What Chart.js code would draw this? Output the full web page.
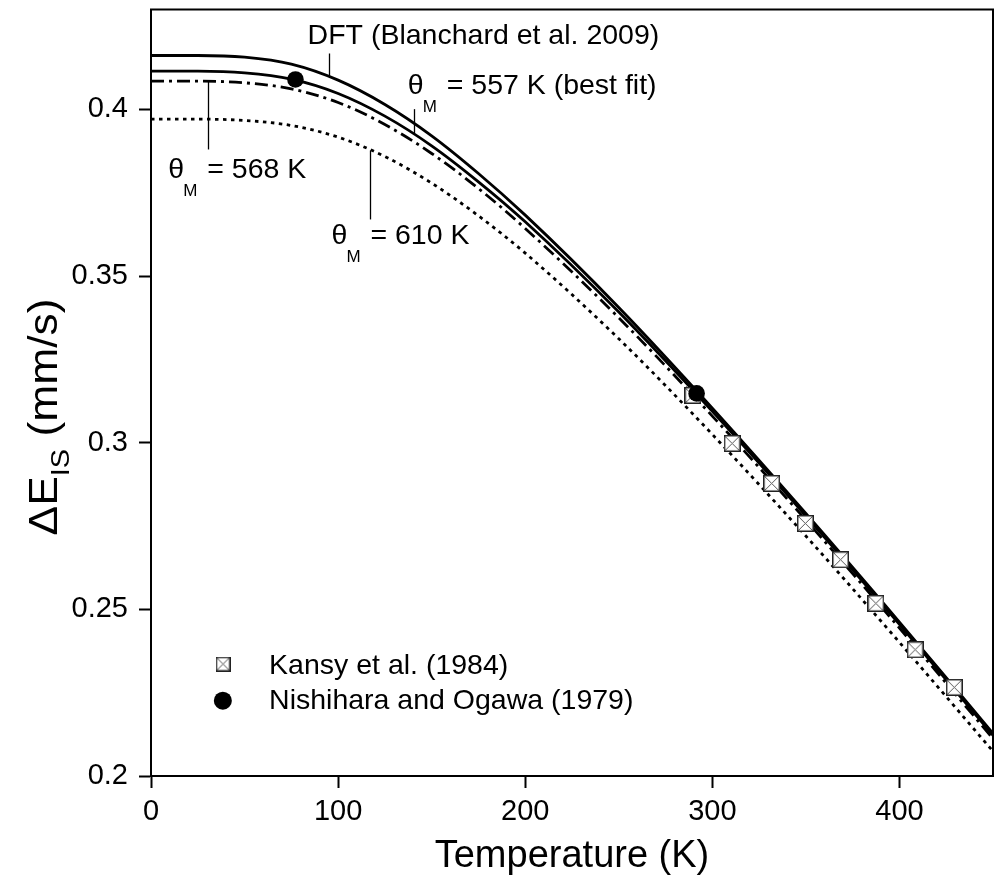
<!DOCTYPE html>
<html>
<head>
<meta charset="utf-8">
<script src="https://cdn.jsdelivr.net/npm/chart.js@4.4.0/dist/chart.umd.min.js"></script>
<style>
html,body{margin:0;padding:0;background:#fff;}
#wrap{width:996px;height:895px;position:relative;}
</style>
</head>
<body>
<div id="wrap"><canvas id="c" width="996" height="895"></canvas></div>
<script>
// ---- data ----
const temps        = [0, 25, 50, 75, 100, 125, 150, 175, 200, 250, 300, 350, 400, 450];
const dftValues    = [0.4162, 0.4162, 0.4157, 0.4136, 0.4088, 0.4015, 0.3921, 0.3808, 0.3683, 0.3406, 0.3104, 0.2788, 0.2462, 0.2128];
const fit557Values = [0.4115, 0.4115, 0.4110, 0.4091, 0.4048, 0.3980, 0.3891, 0.3783, 0.3663, 0.3392, 0.3094, 0.2780, 0.2455, 0.2122];
const fit568Values = [0.4085, 0.4085, 0.4080, 0.4062, 0.4021, 0.3955, 0.3868, 0.3763, 0.3643, 0.3375, 0.3080, 0.2768, 0.2444, 0.2112];
const fit610Values = [0.3971, 0.3971, 0.3967, 0.3952, 0.3917, 0.3859, 0.3779, 0.3681, 0.3569, 0.3312, 0.3025, 0.2720, 0.2401, 0.2074];
const kansyT       = [289.6, 310.6, 331.7, 349.7, 368.5, 387.4, 408.4, 429.3];
const kansyValues  = [0.3142, 0.2998, 0.2878, 0.2758, 0.2649, 0.2518, 0.2379, 0.2266];
const nishiT       = [77.2, 291.6];
const nishiValues  = [0.4090, 0.3148];
const xTicks = [0, 100, 200, 300, 400];
const yTicks = [0.2, 0.25, 0.3, 0.35, 0.4];
const labelKansy = 'Kansy et al. (1984)';
const labelNishi = 'Nishihara and Ogawa (1979)';
const labelDFT = 'DFT (Blanchard et al. 2009)';

const FONT = "'Liberation Sans', Arial, Helvetica, sans-serif";
Chart.defaults.font.family = FONT;
Chart.defaults.color = '#000';

function pairs(xs, ys){ return xs.map((x,i)=>({x:x, y:ys[i]})); }

function makeBoxX(size){
  const cv = document.createElement('canvas');
  cv.width = size; cv.height = size;
  const g = cv.getContext('2d');
  g.fillStyle = '#fff'; g.fillRect(0,0,size,size);
  g.strokeStyle = '#555'; g.lineWidth = 1;
  g.beginPath(); g.moveTo(1.5,1.5); g.lineTo(size-1.5,size-1.5);
  g.moveTo(size-1.5,1.5); g.lineTo(1.5,size-1.5); g.stroke();
  g.strokeStyle = '#222'; g.lineWidth = 1.5;
  g.strokeRect(0.75,0.75,size-1.5,size-1.5);
  return cv;
}
const boxMarker = makeBoxX(17);
const boxLegend = makeBoxX(15);

function zeroPad(s){ s.paddingTop = 0; s.paddingBottom = 0; s.paddingLeft = 0; s.paddingRight = 0; }

const decor = {
  id: 'decor',
  afterLayout(chart){
    const a = chart.chartArea, R = chart.width - 3;
    a.right = R; a.width = R - a.left;
    const x = chart.scales.x;
    x.right = R; x.width = R - x.left; x.configure();
  },
  afterDraw(chart){
    const {ctx, chartArea:a, scales:{x, y}} = chart;
    const px = v => x.getPixelForValue(v), py = v => y.getPixelForValue(v);
    ctx.save();
    // frame
    ctx.strokeStyle = '#000'; ctx.lineWidth = 2;
    ctx.strokeRect(a.left, a.top, a.right - a.left, a.bottom - a.top);
    ctx.fillStyle = '#000';
    ctx.textBaseline = 'alphabetic'; ctx.textAlign = 'left';
    const big = '28.5px ' + FONT, sub = '17px ' + FONT;
    function vline(T, v1, v2){
      ctx.lineWidth = 1.3; ctx.beginPath();
      ctx.moveTo(Math.round(px(T))+0.5, py(v1)); ctx.lineTo(Math.round(px(T))+0.5, py(v2)); ctx.stroke();
    }
    // DFT label
    ctx.font = big; ctx.fillText(labelDFT, px(83.7), py(0.4195));
    vline(94.9, 0.4168, 0.4100);
    // theta labels
    function theta(T, v, rest){
      const X = px(T), Y = py(v);
      ctx.font = big; ctx.fillText('\u03B8', X, Y);
      ctx.font = sub; ctx.fillText('M', X + 15, Y + 18);
      ctx.font = big; ctx.fillText(rest, X + 39, Y);
    }
    theta(137.2, 0.4045, '= 557 K (best fit)');
    vline(140.8, 0.4001, 0.3929);
    theta(9.2, 0.3795, '= 568 K');
    vline(30.2, 0.4083, 0.3880);
    theta(96.4, 0.3595, '= 610 K');
    vline(117.2, 0.3877, 0.3670);
    // legend
    ctx.drawImage(boxLegend, px(38.5) - 7.5, py(0.2336) - 7.5);
    ctx.font = big; ctx.fillText(labelKansy, px(63.1), py(0.2306));
    ctx.beginPath(); ctx.arc(px(38.4), py(0.2226), 9, 0, Math.PI*2); ctx.fill();
    ctx.fillText(labelNishi, px(63.1), py(0.2202));
    // y-axis title with subscript
    ctx.translate(57, 417);
    ctx.rotate(-Math.PI/2);
    ctx.scale(1.11, 1);
    const f1 = '40px ' + FONT, f2 = '26px ' + FONT;
    ctx.font = f1; const w1 = ctx.measureText('\u0394E').width;
    ctx.font = f2; const w2 = ctx.measureText('IS').width;
    ctx.font = f1; const w3 = ctx.measureText(' (mm/s)').width;
    let sx = -(w1 + w2 + w3)/2;
    ctx.font = f1; ctx.fillText('\u0394E', sx, 0); sx += w1;
    ctx.font = f2; ctx.fillText('IS', sx, 12); sx += w2;
    ctx.font = f1; ctx.fillText(' (mm/s)', sx, 0);
    ctx.restore();
  }
};

const lineBase = {type:'line', pointRadius:0, borderColor:'#000', borderWidth:2.8, fill:false,
                  cubicInterpolationMode:'monotone', borderCapStyle:'butt'};

new Chart(document.getElementById('c'), {
  type: 'scatter',
  data: {
    datasets: [
      Object.assign({}, lineBase, {label:'DFT', data: pairs(temps, dftValues), order: 5}),
      Object.assign({}, lineBase, {label:'557 K', data: pairs(temps, fit557Values), order: 4}),
      Object.assign({}, lineBase, {label:'568 K', data: pairs(temps, fit568Values), borderDash:[13,5,3,5], order: 3}),
      Object.assign({}, lineBase, {label:'610 K', data: pairs(temps, fit610Values), borderDash:[3.5,4.5], order: 2}),
      {label: labelKansy, data: pairs(kansyT, kansyValues), showLine:false, pointStyle: boxMarker, pointRadius: 8.5, order: 1},
      {label: labelNishi, data: pairs(nishiT, nishiValues), showLine:false, pointStyle:'circle', pointRadius: 8.3,
       backgroundColor:'#000', borderColor:'#000', borderWidth:0, order: 0}
    ]
  },
  options: {
    responsive: false,
    animation: false,
    devicePixelRatio: 1,
    layout: {padding: {top: 8, right: 3, left: 0, bottom: 0}},
    plugins: {legend: {display:false}, tooltip: {enabled:false}},
    scales: {
      x: {
        type: 'linear', min: 0, max: 450,
        afterBuildTicks: s => { s.ticks = xTicks.map(v => ({value: v})); },
        afterFit: s => { s.height = 119; zeroPad(s); },
        ticks: {font: {size: 29}, color:'#000', padding: 7, maxRotation: 0, callback: v => String(v)},
        grid: {display: true, drawOnChartArea: false, drawTicks: true, tickLength: 12, tickWidth: 2, color:'#000'},
        border: {display: true, color:'#000', width: 2},
        title: {display: true, text: 'Temperature (K)', font: {size: 38}, color:'#000', padding: {top: 0, bottom: 16}}
      },
      y: {
        type: 'linear', min: 0.2, max: 0.43,
        afterBuildTicks: s => { s.ticks = yTicks.map(v => ({value: v})); },
        afterFit: s => { s.width = 151; zeroPad(s); },
        ticks: {font: {size: 29}, color:'#000', padding: 11, callback: v => String(v)},
        grid: {display: true, drawOnChartArea: false, drawTicks: true, tickLength: 12, tickWidth: 2, color:'#000'},
        border: {display: true, color:'#000', width: 2}
      }
    }
  },
  plugins: [decor]
});
</script>
</body>
</html>
